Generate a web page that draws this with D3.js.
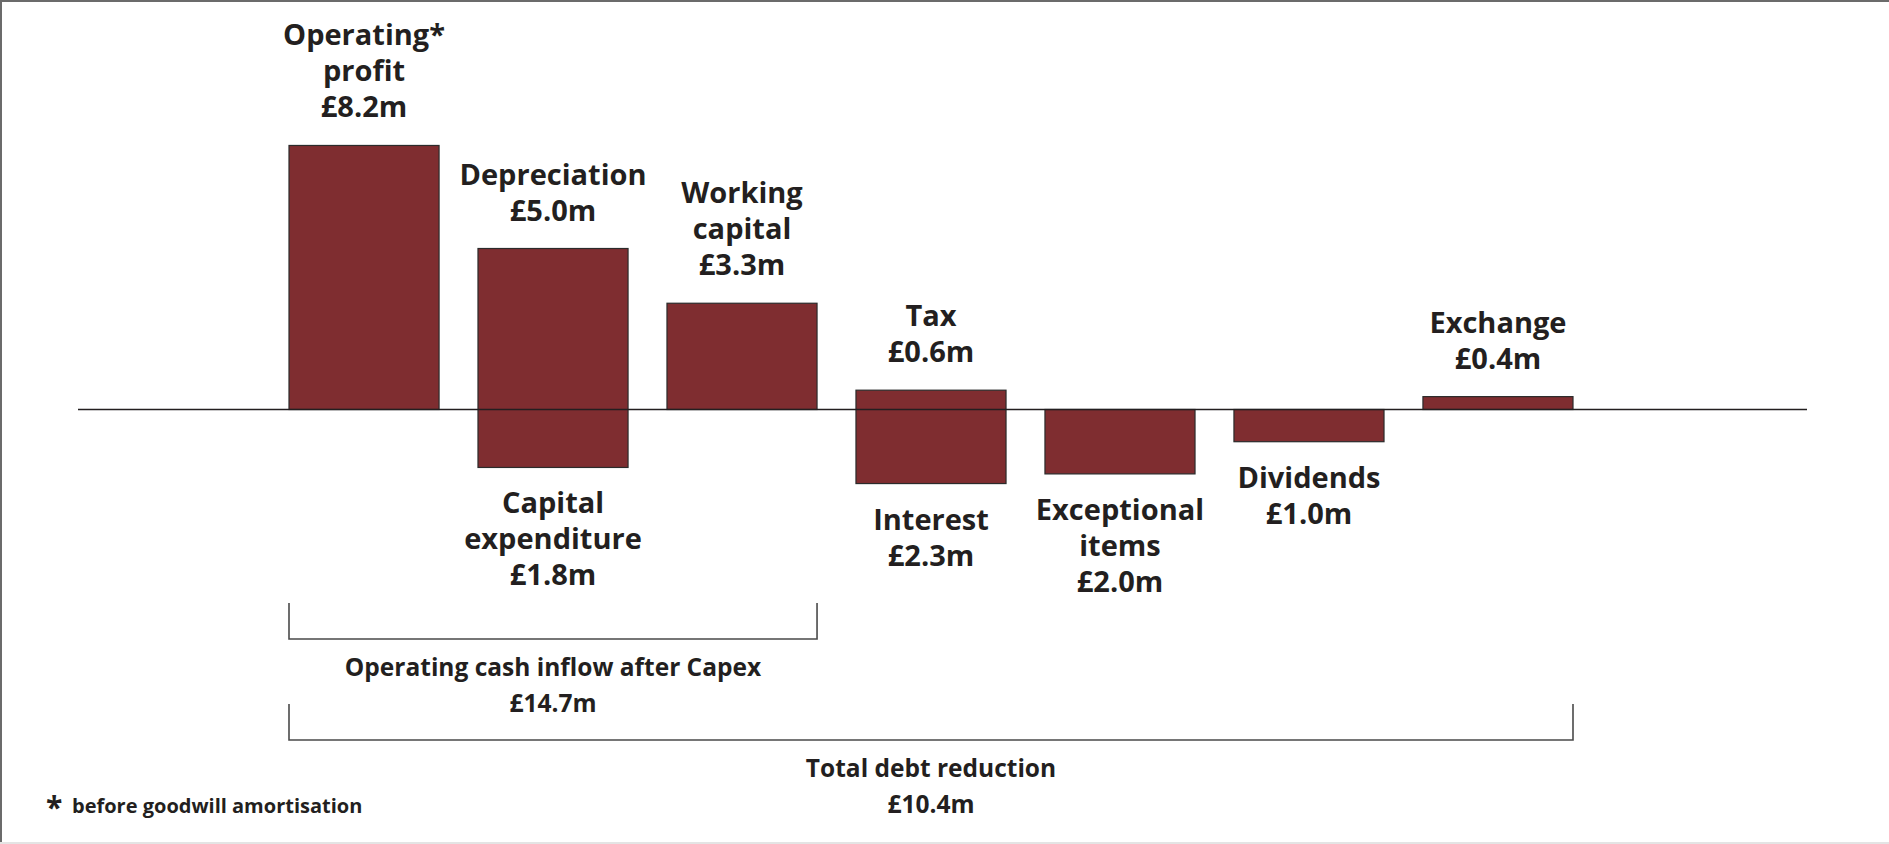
<!DOCTYPE html>
<html>
<head>
<meta charset="utf-8">
<script src="https://cdn.jsdelivr.net/npm/d3@7"></script>
<style>
  body { margin: 0; background: #fff; }
  text { font-family: "Open Sans", sans-serif; font-weight: 700; fill: #231f20; }
</style>
</head>
<body>
<script>
'use strict';

// cash flow items, £m (inflow up, outflow down)
const items = ["Operating profit", "Depreciation / Capex", "Working capital", "Tax / Interest",
               "Exceptional items", "Dividends", "Exchange"];
const upValues = [8.2, 5.0, 3.3, 0.6, 0, 0, 0.4];
const downValues = [0, 1.8, 0, 2.3, 2.0, 1.0, 0];
const upLabels = [["Operating*", "profit", "£8.2m"], ["Depreciation", "£5.0m"], ["Working", "capital", "£3.3m"],
                  ["Tax", "£0.6m"], null, null, ["Exchange", "£0.4m"]];
const downLabels = [null, ["Capital", "expenditure", "£1.8m"], null, ["Interest", "£2.3m"],
                    ["Exceptional", "items", "£2.0m"], ["Dividends", "£1.0m"], null];

// brackets spanning items
const bracketFrom = [0, 0];
const bracketTo = [2, 6];
const bracketNames = ["Operating cash inflow after Capex", "Total debt reduction"];
const bracketValues = ["£14.7m", "£10.4m"];

const footnote = "before goodwill amortisation";

(function() {
    const W = 1889, H = 844;
    const svg = d3.select('body').append('svg')
        .attr('width', W)
        .attr('height', H);

    // frame: top and left dark, bottom faint
    svg.append('line').attr('x1', 0).attr('x2', W).attr('y1', 1).attr('y2', 1)
        .attr('stroke', '#6b6b6b').attr('stroke-width', 2);
    svg.append('line').attr('x1', 1).attr('x2', 1).attr('y1', 0).attr('y2', H)
        .attr('stroke', '#6b6b6b').attr('stroke-width', 2);
    svg.append('line').attr('x1', 0).attr('x2', W).attr('y1', H - 1).attr('y2', H - 1)
        .attr('stroke', '#e4e4e4').attr('stroke-width', 2);

    const x = d3.scaleBand()
        .domain(items)
        .range([289, 1573])
        .paddingInner(0.206)
        .paddingOuter(0);

    const y = d3.scaleLinear()
        .domain([-3, 9])
        .range([409.5 + 3 * 32.2, 409.5 - 9 * 32.2]);

    const rows = items.map((d, i) => ({
        key: d, up: upValues[i], down: downValues[i],
        upLab: upLabels[i], downLab: downLabels[i]
    }));

    // bars
    svg.selectAll('.bar')
        .data(rows)
        .enter()
        .append('rect')
        .attr('class', 'bar')
        .attr('x', d => x(d.key))
        .attr('y', d => y(d.up))
        .attr('width', x.bandwidth())
        .attr('height', d => y(-d.down) - y(d.up))
        .attr('fill', '#7f2d30')
        .attr('stroke', '#2b2b2b')
        .attr('stroke-width', 1.2);

    // zero line
    svg.append('line')
        .attr('x1', 78).attr('x2', 1807)
        .attr('y1', y(0)).attr('y2', y(0))
        .attr('stroke', '#231f20')
        .attr('stroke-width', 1.3);

    const fs = 29, lh = 36;

    // labels above
    rows.filter(d => d.upLab).forEach(d => {
        const cx = x(d.key) + x.bandwidth() / 2;
        const n = d.upLab.length;
        d.upLab.forEach((t, j) => {
            svg.append('text')
                .attr('x', cx)
                .attr('y', y(d.up) - 38 - (n - 1 - j) * lh + 10)
                .attr('text-anchor', 'middle')
                .style('font-size', fs + 'px')
                .text(t);
        });
    });

    // labels below
    rows.filter(d => d.downLab).forEach(d => {
        const cx = x(d.key) + x.bandwidth() / 2;
        d.downLab.forEach((t, j) => {
            svg.append('text')
                .attr('x', cx)
                .attr('y', y(-d.down) + 36 + j * lh + 10)
                .attr('text-anchor', 'middle')
                .style('font-size', fs + 'px')
                .text(t);
        });
    });

    // brackets
    const bracketTop = [603, 704];
    bracketNames.forEach((name, i) => {
        const x0 = x(items[bracketFrom[i]]);
        const x1 = x(items[bracketTo[i]]) + x.bandwidth();
        const yt = bracketTop[i], yb = yt + 36;
        svg.append('path')
            .attr('d', `M${x0},${yt}V${yb}H${x1}V${yt}`)
            .attr('fill', 'none')
            .attr('stroke', '#4a4a4a')
            .attr('stroke-width', 1.6);
        const cx = (x0 + x1) / 2;
        svg.append('text')
            .attr('x', cx).attr('y', yb + 28 + 9)
            .attr('text-anchor', 'middle')
            .style('font-size', '24.5px')
            .text(name);
        svg.append('text')
            .attr('x', cx).attr('y', yb + 64 + 9)
            .attr('text-anchor', 'middle')
            .style('font-size', '24.5px')
            .text(bracketValues[i]);
    });

    // footnote
    svg.append('text')
        .attr('x', 46).attr('y', 818)
        .style('font-size', '30px')
        .text('*');
    svg.append('text')
        .attr('x', 72).attr('y', 813)
        .style('font-size', '20px')
        .text(footnote);
})();
</script>
</body>
</html>
